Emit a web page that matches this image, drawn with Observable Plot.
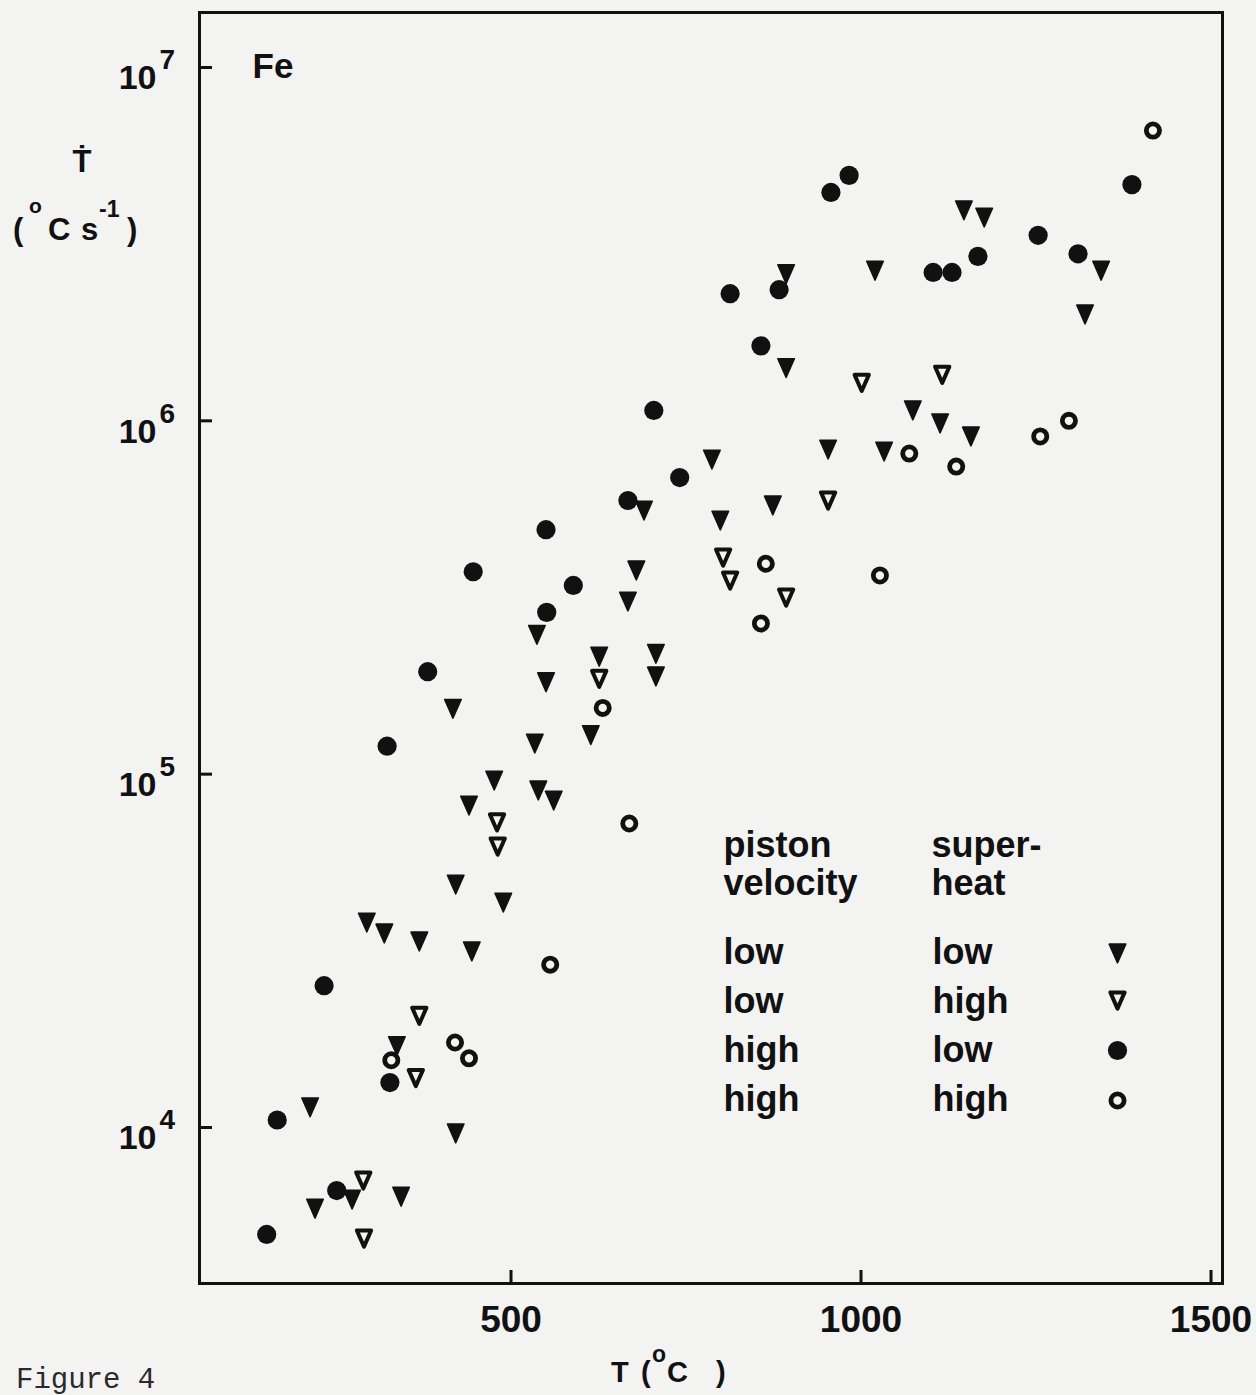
<!DOCTYPE html>
<html>
<head>
<meta charset="utf-8">
<script src="https://cdn.jsdelivr.net/npm/d3@7"></script>
<script src="https://cdn.jsdelivr.net/npm/@observablehq/plot@0.6"></script>
<style>
  html, body { margin: 0; padding: 0; background: #f3f3f1; }
  #chart svg { display: block; }
</style>
</head>
<body>
<div id="chart"></div>
<script>
// ---------- axis ticks ----------
const xTicks = [500, 1000, 1500];
const yTicks = [1e4, 1e5, 1e6, 1e7];
const yTickExponents = ["4", "5", "6", "7"];

// ---------- data: T (°C) and cooling rate (°C/s) ----------
// low piston velocity, low superheat (filled down-triangles)
const lowLowT = [213, 220, 273, 294, 319, 337, 343, 369, 417, 421, 421, 440, 444, 476, 489, 534, 537, 539, 550, 561, 614, 626, 667, 679, 690, 707, 707, 787, 799, 874, 893, 893, 953, 1020, 1033, 1074, 1113, 1147, 1157, 1176, 1320, 1343];
const lowLowRate = [11400, 5890, 6250, 38000, 35400, 17000, 6370, 33600, 153000, 9620, 48700, 81500, 31500, 95900, 43300, 122000, 248000, 89900, 182000, 84200, 129000, 215000, 308000, 377000, 557000, 219000, 189000, 777000, 522000, 576000, 2600000, 1410000, 829000, 2660000, 818000, 1070000, 983000, 3940000, 903000, 3760000, 2000000, 2660000];

// low piston velocity, high superheat (open down-triangles)
const lowHighT = [289, 290, 364, 369, 480, 481, 626, 803, 813, 893, 953, 1001, 1116];
const lowHighRate = [7080, 4850, 13800, 20700, 73000, 62400, 186000, 410000, 353000, 316000, 595000, 1280000, 1350000];

// high piston velocity, low superheat (filled circles)
const highLowT = [151, 166, 233, 251, 323, 327, 381, 446, 550, 551, 589, 667, 704, 741, 813, 857, 883, 957, 983, 1103, 1130, 1167, 1253, 1310, 1387];
const highLowRate = [4980, 10500, 25200, 6630, 120000, 13400, 195000, 374000, 492000, 287000, 342000, 595000, 1070000, 691000, 2290000, 1630000, 2350000, 4430000, 4950000, 2630000, 2630000, 2920000, 3350000, 2970000, 4660000];

// high piston velocity, high superheat (open circles)
const highHighT = [329, 420, 440, 556, 631, 669, 857, 864, 1027, 1069, 1136, 1256, 1297, 1417];
const highHighRate = [15500, 17400, 15700, 28900, 154000, 72500, 267000, 394000, 365000, 808000, 742000, 903000, 1000000, 6630000];

// ---------- legend texts ----------
const legendHeaders = ["piston\nvelocity", "super-\nheat"];
const legendPiston = ["low", "low", "high", "high"];
const legendSuperheat = ["low", "high", "low", "high"];
const panelLabel = ["Fe"];

// ---------- build ----------
const rows = (T, R) => T.map((t, i) => ({T: t, rate: R[i]}));
const lowLow = rows(lowLowT, lowLowRate);
const lowHigh = rows(lowHighT, lowHighRate);
const highLow = rows(highLowT, highLowRate);
const highHigh = rows(highHighT, highHighRate);

const ink = "#111";
const sans = "'Liberation Sans', Arial, Helvetica, 'DejaVu Sans', sans-serif";

// down-pointing triangle, slightly taller than wide
const downTriangle = {
  draw(context, size) {
    const r = Math.sqrt(size / Math.PI);
    context.moveTo(-0.83 * r, -0.94 * r);
    context.lineTo(0.83 * r, -0.94 * r);
    context.lineTo(0, 0.94 * r);
    context.closePath();
  }
};

const styleFilledTri = {symbol: downTriangle, r: 10, fill: ink, stroke: ink, strokeWidth: 1.5, strokeLinejoin: "round"};
const styleOpenTri = {symbol: downTriangle, r: 8.6, fill: "none", stroke: ink, strokeWidth: 4, strokeLinejoin: "round"};
const styleFilledCircle = {r: 9.6, fill: ink, stroke: "none"};
const styleOpenCircle = {r: 6.6, fill: "none", stroke: ink, strokeWidth: 4.8};

const legendStyles = [styleFilledTri, styleOpenTri, styleFilledCircle, styleOpenCircle];
const legendDy = [941, 988, 1038, 1088];

const chart = Plot.plot({
  width: 1256,
  height: 1395,
  marginLeft: 199,
  marginRight: 34,
  marginTop: 12,
  marginBottom: 112,
  x: {type: "linear", domain: [55, 1516.4], label: null},
  y: {type: "log", domain: [3618, 1.431e7], label: null},
  style: {background: "transparent", fontFamily: sans, color: ink, overflow: "visible"},
  marks: [
    Plot.frame({stroke: ink, strokeWidth: 3}),
    Plot.axisX({ticks: xTicks, tickSize: -13, strokeWidth: 3, tickFormat: () => "", fill: "none", label: null}),
    Plot.axisX({ticks: xTicks, tickSize: 0, tickPadding: 22, fontSize: 37, fontWeight: "bold", fontFamily: sans, fill: ink, label: null, tickFormat: d => `${d}`}),
    Plot.axisY({ticks: yTicks, tickSize: -13, strokeWidth: 3, tickFormat: () => "", fill: "none", label: null}),
    Plot.text(yTicks, {y: d => d, frameAnchor: "left", text: () => "10", dx: -43, dy: 22, textAnchor: "end", lineAnchor: "bottom", fontSize: 34, fontWeight: "bold", fill: ink}),
    Plot.text(yTicks, {y: d => d, frameAnchor: "left", text: (d, i) => yTickExponents[i], dx: -40, dy: 2, textAnchor: "start", lineAnchor: "bottom", fontSize: 28, fontWeight: "bold", fill: ink}),

    Plot.dot(highHigh, {x: "T", y: "rate", ...styleOpenCircle}),
    Plot.dot(lowHigh, {x: "T", y: "rate", ...styleOpenTri}),
    Plot.dot(highLow, {x: "T", y: "rate", ...styleFilledCircle}),
    Plot.dot(lowLow, {x: "T", y: "rate", ...styleFilledTri}),

    Plot.text(panelLabel, {frameAnchor: "top-left", text: d => d, dx: 53, dy: 65, textAnchor: "start", lineAnchor: "bottom", fontSize: 35, fontWeight: "bold", fill: ink}),

    Plot.text([legendHeaders[0]], {frameAnchor: "top-left", text: d => d, dx: 524, dy: 882, textAnchor: "start", lineAnchor: "bottom", lineHeight: 1.03, fontSize: 36, fontWeight: "bold", fill: ink}),
    Plot.text([legendHeaders[1]], {frameAnchor: "top-left", text: d => d, dx: 732, dy: 882, textAnchor: "start", lineAnchor: "bottom", lineHeight: 1.03, fontSize: 36, fontWeight: "bold", fill: ink}),
    Plot.text([legendPiston.join("\n")], {frameAnchor: "top-left", text: d => d, dx: 524, dy: 1098, textAnchor: "start", lineAnchor: "bottom", lineHeight: 1.353, fontSize: 36, fontWeight: "bold", fill: ink}),
    Plot.text([legendSuperheat.join("\n")], {frameAnchor: "top-left", text: d => d, dx: 733, dy: 1098, textAnchor: "start", lineAnchor: "bottom", lineHeight: 1.353, fontSize: 36, fontWeight: "bold", fill: ink}),
    ...legendStyles.map((s, i) => Plot.dot([legendPiston[i] + "/" + legendSuperheat[i]], {frameAnchor: "top-left", dx: 918, dy: legendDy[i], ...s}))
  ]
});

document.getElementById("chart").appendChild(chart);

// ---------- axis titles and caption ----------
const svg = d3.select(chart);

svg.append("text")
  .attr("x", 82).attr("y", 172)
  .attr("text-anchor", "middle")
  .attr("font-family", sans).attr("font-weight", "bold").attr("font-size", 31)
  .attr("fill", ink)
  .text("\u1E6A");

const yTitle = svg.append("text")
  .attr("text-anchor", "start")
  .attr("font-family", sans).attr("font-weight", "bold").attr("font-size", 31)
  .attr("fill", ink);
yTitle.append("tspan").attr("x", 13).attr("y", 240).text("(");
yTitle.append("tspan").attr("x", 29).attr("y", 213).attr("font-size", 21).text("o");
yTitle.append("tspan").attr("x", 48).attr("y", 240).text("C");
yTitle.append("tspan").attr("x", 81).attr("y", 240).text("s");
yTitle.append("tspan").attr("x", 99).attr("y", 217).attr("font-size", 23).text("-1");
yTitle.append("tspan").attr("x", 127).attr("y", 240).text(")");

const xTitle = svg.append("text")
  .attr("text-anchor", "start")
  .attr("font-family", sans).attr("font-weight", "bold").attr("font-size", 29)
  .attr("fill", ink);
xTitle.append("tspan").attr("x", 611).attr("y", 1382).text("T");
xTitle.append("tspan").attr("x", 641).attr("y", 1382).text("(");
xTitle.append("tspan").attr("x", 652).attr("y", 1362).attr("font-size", 23).text("o");
xTitle.append("tspan").attr("x", 667).attr("y", 1382).text("C");
xTitle.append("tspan").attr("x", 716).attr("y", 1382).text(")");

svg.append("text")
  .attr("x", 16).attr("y", 1388)
  .attr("text-anchor", "start")
  .attr("font-family", "'Liberation Mono', 'Courier New', 'DejaVu Sans Mono', monospace")
  .attr("font-size", 29)
  .attr("fill", "#2a2a2a")
  .text("Figure 4");
</script>
</body>
</html>
